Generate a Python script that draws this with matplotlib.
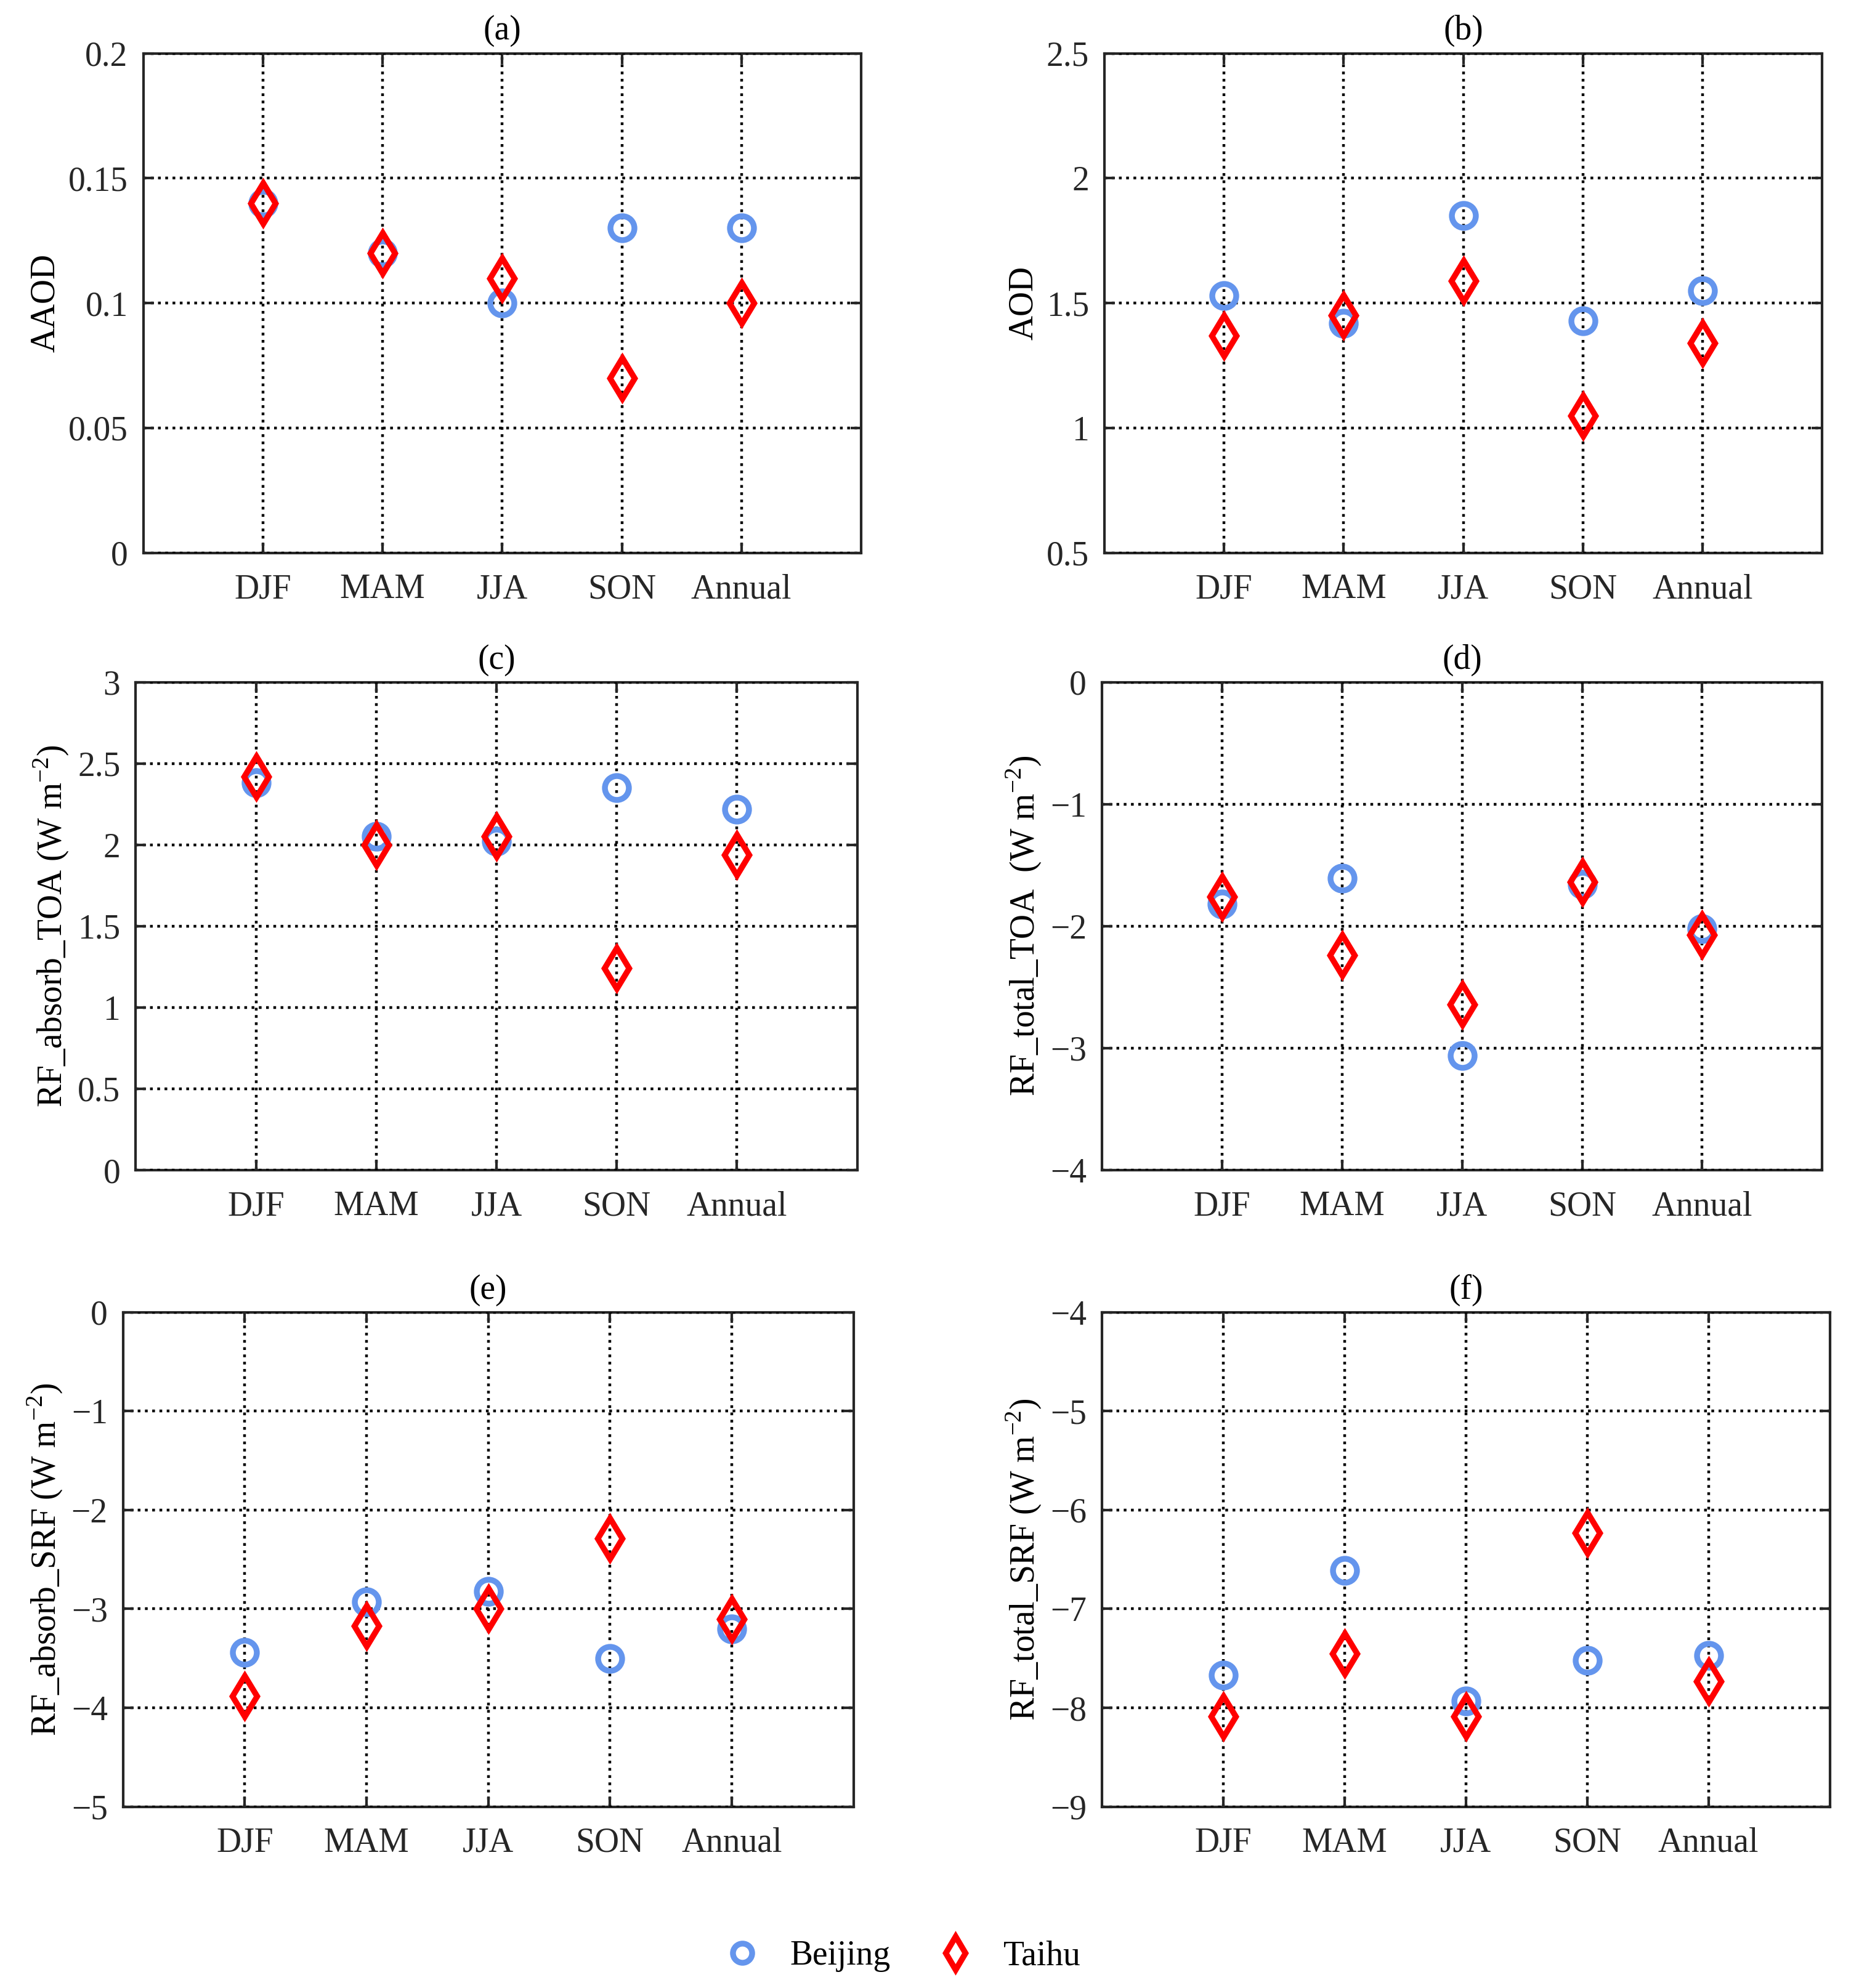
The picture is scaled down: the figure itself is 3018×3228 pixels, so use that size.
import matplotlib

matplotlib.use("Agg")
import matplotlib.pyplot as plt

seasons = ["DJF", "MAM", "JJA", "SON", "Annual"]

aaod_beijing = [0.14, 0.12, 0.10, 0.13, 0.13]
aaod_taihu = [0.14, 0.12, 0.11, 0.07, 0.10]

aod_beijing = [1.53, 1.42, 1.85, 1.43, 1.55]
aod_taihu = [1.37, 1.45, 1.59, 1.05, 1.34]

abs_toa_beijing = [2.38, 2.05, 2.02, 2.35, 2.22]
abs_toa_taihu = [2.42, 2.00, 2.05, 1.24, 1.94]

tot_toa_beijing = [-1.82, -1.61, -3.06, -1.66, -2.02]
tot_toa_taihu = [-1.76, -2.24, -2.64, -1.64, -2.07]

abs_srf_beijing = [-3.44, -2.93, -2.82, -3.50, -3.20]
abs_srf_taihu = [-3.88, -3.17, -3.00, -2.29, -3.10]

tot_srf_beijing = [-7.67, -6.61, -7.93, -7.52, -7.47]
tot_srf_taihu = [-8.09, -7.45, -8.09, -6.23, -7.73]

plt.rcParams["font.family"] = ["Liberation Serif", "DejaVu Serif"]
plt.rcParams["font.size"] = 20
plt.rcParams["axes.linewidth"] = 1.5
plt.rcParams["mathtext.fontset"] = "custom"
plt.rcParams["mathtext.rm"] = "Liberation Serif"

fig = plt.figure(figsize=(15.09, 16.14), dpi=200)

# [left, bottom, width, height] in figure fractions
boxes = [
    [0.0771, 0.7219, 0.3861, 0.2513],
    [0.5941, 0.7219, 0.3861, 0.2513],
    [0.0730, 0.4114, 0.3881, 0.2455],
    [0.5928, 0.4114, 0.3874, 0.2455],
    [0.0662, 0.0912, 0.3929, 0.2487],
    [0.5928, 0.0912, 0.3915, 0.2487],
]

panels = [
    ("(a)", "AAOD", aaod_beijing, aaod_taihu, (0, 0.2), [0, 0.05, 0.1, 0.15, 0.2],
     ["0", "0.05", "0.1", "0.15", "0.2"]),
    ("(b)", "AOD", aod_beijing, aod_taihu, (0.5, 2.5), [0.5, 1, 1.5, 2, 2.5],
     ["0.5", "1", "1.5", "2", "2.5"]),
    ("(c)", r"RF_absorb_TOA (W m$^{\mathdefault{-2}}$)", abs_toa_beijing, abs_toa_taihu, (0, 3),
     [0, 0.5, 1, 1.5, 2, 2.5, 3], ["0", "0.5", "1", "1.5", "2", "2.5", "3"]),
    ("(d)", r"RF_total_TOA  (W m$^{\mathdefault{-2}}$)", tot_toa_beijing, tot_toa_taihu, (-4, 0),
     [-4, -3, -2, -1, 0], ["\u22124", "\u22123", "\u22122", "\u22121", "0"]),
    ("(e)", r"RF_absorb_SRF (W m$^{\mathdefault{-2}}$)", abs_srf_beijing, abs_srf_taihu, (-5, 0),
     [-5, -4, -3, -2, -1, 0], ["\u22125", "\u22124", "\u22123", "\u22122", "\u22121", "0"]),
    ("(f)", r"RF_total_SRF (W m$^{\mathdefault{-2}}$)", tot_srf_beijing, tot_srf_taihu, (-9, -4),
     [-9, -8, -7, -6, -5, -4], ["\u22129", "\u22128", "\u22127", "\u22126", "\u22125", "\u22124"]),
]

x = list(range(1, len(seasons) + 1))
handles = None
for box, (title, ylabel, bj, th, ylim, yticks, ylabels) in zip(boxes, panels):
    ax = fig.add_axes(box)
    h1, = ax.plot(x, bj, linestyle="none", marker="o", markersize=14,
                  markerfacecolor="none", markeredgecolor="#6495ED",
                  markeredgewidth=3.4, label="Beijing", zorder=3)
    h2, = ax.plot(x, th, linestyle="none", marker="d", markersize=17,
                  markerfacecolor="none", markeredgecolor="#FF0000",
                  markeredgewidth=3.4, label="Taihu", zorder=4)
    handles = [h1, h2]
    ax.set_xlim(0, 6)
    ax.set_ylim(*ylim)
    ax.set_xticks(x)
    ax.set_xticklabels(seasons, fontsize=20)
    ax.set_yticks(yticks)
    ax.set_yticklabels(ylabels, fontsize=20)
    ax.tick_params(axis="x", pad=12)
    ax.tick_params(direction="in", length=6, width=1.5, top=True, right=True,
                   colors="#262626")
    ax.tick_params(axis="y", pad=9)
    ax.grid(True, linestyle=":", color="black", linewidth=1.6)
    ax.set_axisbelow(False)
    ax.set_title(title, fontsize=20, pad=8)
    ax.set_ylabel(ylabel, fontsize=20)
    for s in ax.spines.values():
        s.set_color("#262626")

fig.legend(handles, ["Beijing", "Taihu"], loc="center", ncol=2,
           bbox_to_anchor=(0.483, 0.016), frameon=False, fontsize=20,
           markerscale=0.8, handlelength=1.6, handletextpad=0.6,
           columnspacing=1.1)

fig.savefig("out.png", dpi=200)
